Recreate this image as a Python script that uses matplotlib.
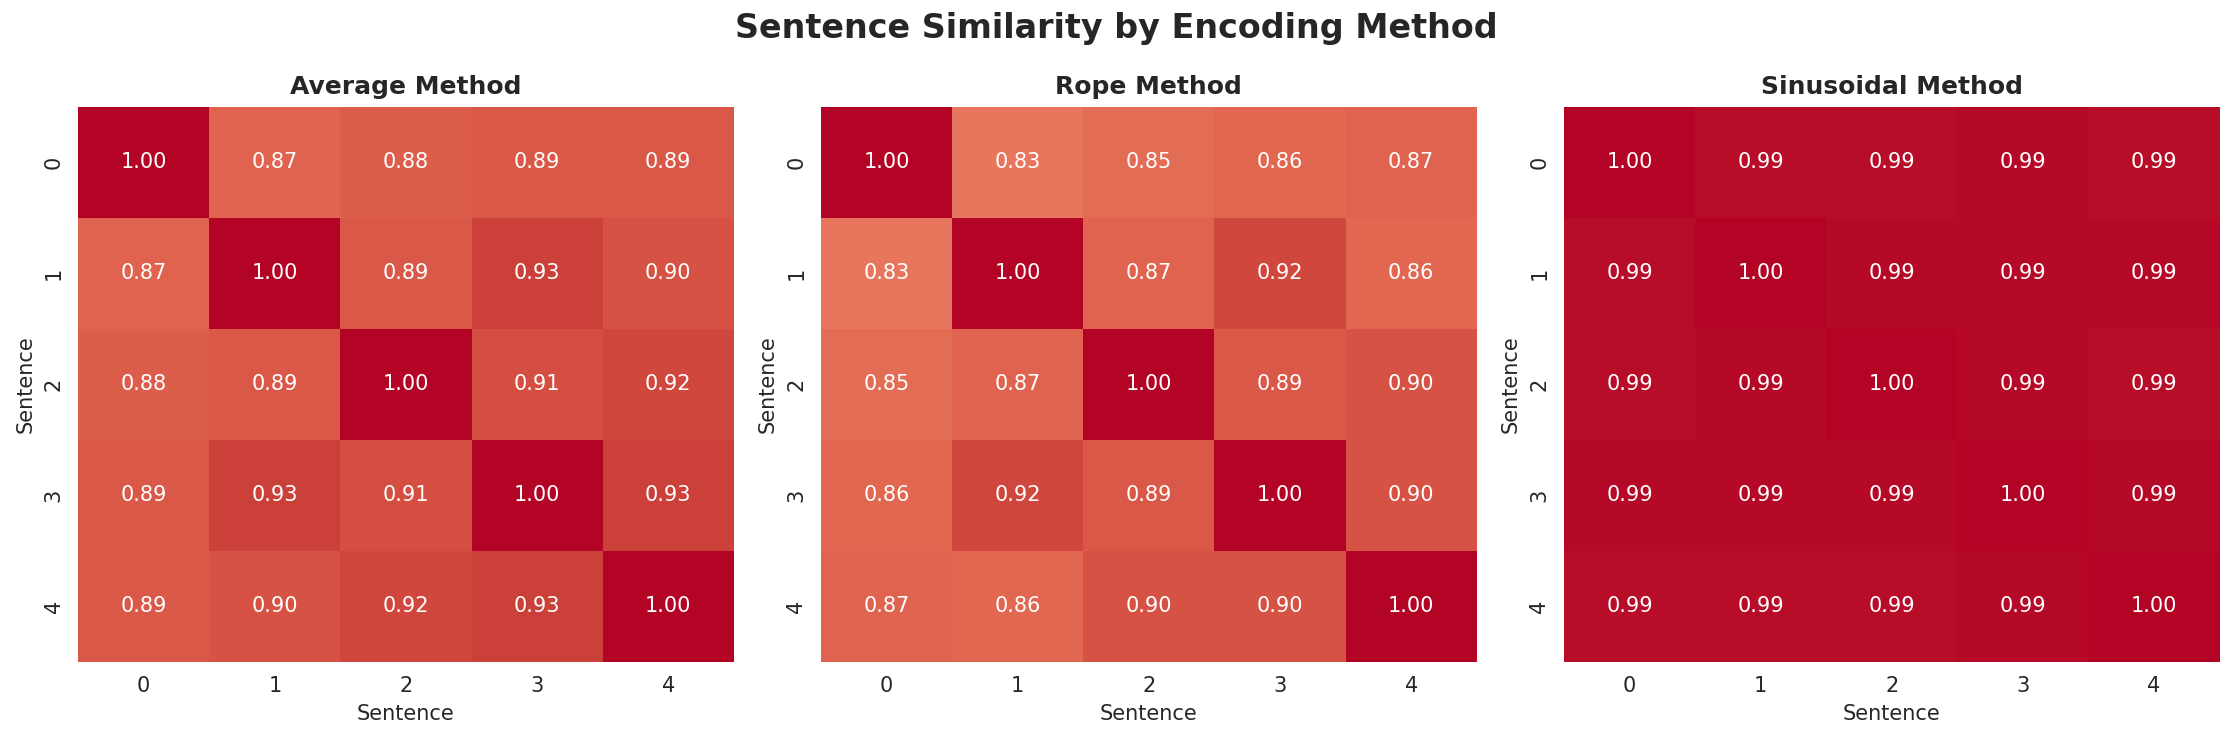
import matplotlib
matplotlib.use("Agg")
import matplotlib.pyplot as plt
import numpy as np
import seaborn as sns

sns.set_style("white")

methods = ["Average", "Rope", "Sinusoidal"]
labels = [0, 1, 2, 3, 4]

average = [
    [1.00, 0.87, 0.88, 0.89, 0.89],
    [0.87, 1.00, 0.89, 0.93, 0.90],
    [0.88, 0.89, 1.00, 0.91, 0.92],
    [0.89, 0.93, 0.91, 1.00, 0.93],
    [0.89, 0.90, 0.92, 0.93, 1.00],
]
rope = [
    [1.00, 0.83, 0.85, 0.86, 0.87],
    [0.83, 1.00, 0.87, 0.92, 0.86],
    [0.85, 0.87, 1.00, 0.89, 0.90],
    [0.86, 0.92, 0.89, 1.00, 0.90],
    [0.87, 0.86, 0.90, 0.90, 1.00],
]
sinusoidal = [
    [1.000, 0.992, 0.991, 0.993, 0.992],
    [0.992, 1.000, 0.993, 0.994, 0.993],
    [0.991, 0.993, 1.000, 0.993, 0.992],
    [0.993, 0.994, 0.993, 1.000, 0.993],
    [0.992, 0.991, 0.990, 0.993, 1.000],
]

fig, axes = plt.subplots(1, 3, figsize=(2233 / 150, 740 / 150), dpi=150)

for ax, name, data in zip(axes, methods, [average, rope, sinusoidal]):
    sns.heatmap(np.array(data), annot=True, fmt=".2f", cmap="coolwarm",
                vmin=0, vmax=1, cbar=False, ax=ax,
                xticklabels=labels, yticklabels=labels)
    ax.set_title(f"{name} Method", fontweight="bold", fontsize=12)
    ax.set_xlabel("Sentence")
    ax.set_ylabel("Sentence")

fig.suptitle("Sentence Similarity by Encoding Method", fontsize=16,
             fontweight="bold", y=0.962, va="center")
plt.subplots_adjust(left=0.035, right=0.994, top=0.856, bottom=0.106, wspace=0.133)
plt.savefig("out.png", dpi=150)
